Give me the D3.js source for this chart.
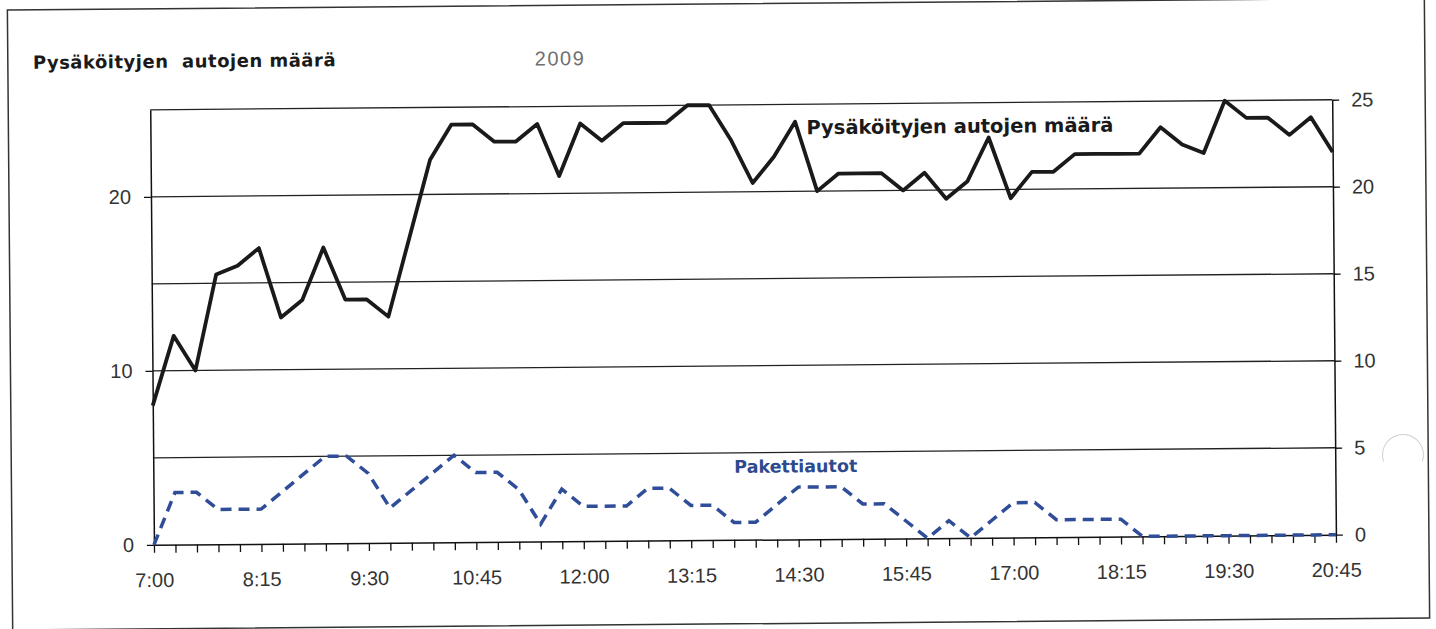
<!DOCTYPE html>
<html>
<head>
<meta charset="utf-8">
<script src="https://cdnjs.cloudflare.com/ajax/libs/d3/7.8.5/d3.min.js"></script>
<style>
  body { margin: 0; background: #fff; }
</style>
</head>
<body>
<script>
// 15 min observations, 7:00 - 20:45
var times = ["7:00","7:15","7:30","7:45","8:00","8:15","8:30","8:45","9:00","9:15",
             "9:30","9:45","10:00","10:15","10:30","10:45","11:00","11:15","11:30","11:45",
             "12:00","12:15","12:30","12:45","13:00","13:15","13:30","13:45","14:00","14:15",
             "14:30","14:45","15:00","15:15","15:30","15:45","16:00","16:15","16:30","16:45",
             "17:00","17:15","17:30","17:45","18:00","18:15","18:30","18:45","19:00","19:15",
             "19:30","19:45","20:00","20:15","20:30","20:45"];
var tickLabels = ["7:00","8:15","9:30","10:45","12:00","13:15","14:30","15:45","17:00","18:15","19:30","20:45"];

var parkedCars = [8,12,10,15.5,16,17,13,14,17,14,
                  14,13,17.5,22,24,24,23,23,24,21,
                  24,23,24,24,24,25,25,23,20.5,22,
                  24,20,21,21,21,20,21,19.5,20.5,23,
                  19.5,21,21,22,22,22,22,23.5,22.5,22,
                  25,24,24,23,24,22];
var vans = [0,3,3,2,2,2,3,4,5,5,
            4,2,3,4,5,4,4,3,1,3,
            2,2,2,3,3,2,2,1,1,2,
            3,3,3,2,2,1,0,1,0,1,
            2,2,1,1,1,1,0,0,0,0,
            0,0,0,0,0,0];

var leftTicks = [0, 10, 20];
var rightTicks = [0, 5, 10, 15, 20, 25];
var gridValues = [5, 10, 15, 20, 25];

var width = 1436;
var height = 629;

var svg = d3.select("body")
    .append("svg")
    .attr("width", width)
    .attr("height", height);

// the scanned sheet sits slightly askew
var chart = svg.append("g")
    .attr("transform", "rotate(-0.49, 718, 314)");

chart.append("rect")
    .attr("x", 10)
    .attr("y", 4)
    .attr("width", 1417)
    .attr("height", 620)
    .attr("fill", "none")
    .attr("stroke", "#333")
    .attr("stroke-width", 1.5);

var x = d3.scalePoint()
    .domain(times)
    .range([152, 1334]);

var y = d3.scaleLinear()
    .domain([0, 25])
    .range([540, 105]);

// gridlines
chart.append("g")
    .selectAll("line")
    .data(gridValues)
    .enter()
    .append("line")
    .attr("x1", x.range()[0])
    .attr("x2", x.range()[1])
    .attr("y1", d => y(d))
    .attr("y2", d => y(d))
    .attr("stroke", "#222")
    .attr("stroke-width", 1.3);

// axes
var axisFont = "'Liberation Sans', Arial, sans-serif";

var leftAxis = chart.append("g")
    .attr("transform", "translate(" + x.range()[0] + ",0)")
    .call(d3.axisLeft(y).tickValues(leftTicks).tickSize(7).tickPadding(13).tickSizeOuter(0));

var rightAxis = chart.append("g")
    .attr("transform", "translate(" + x.range()[1] + ",0)")
    .call(d3.axisRight(y).tickValues(rightTicks).tickSize(7).tickPadding(12).tickSizeOuter(0));

var bottomAxis = chart.append("g")
    .attr("transform", "translate(0," + y(0) + ")")
    .call(d3.axisBottom(x).tickSize(8).tickPadding(20).tickSizeOuter(0)
        .tickFormat(d => tickLabels.indexOf(d) >= 0 ? d : ""));

[leftAxis, rightAxis, bottomAxis].forEach(function(a) {
    a.selectAll("path.domain").attr("stroke", "#111").attr("stroke-width", 1.5);
    a.selectAll(".tick line").attr("stroke", "#111").attr("stroke-width", 1.3);
    a.selectAll("text")
        .attr("fill", "#333")
        .style("font-family", axisFont)
        .style("font-size", "20px");
});

// series
var line = d3.line()
    .x((d, i) => x(times[i]))
    .y(d => y(d));

chart.append("path")
    .datum(vans)
    .attr("d", line)
    .attr("fill", "none")
    .attr("stroke", "#2f4d98")
    .attr("stroke-width", 3.5)
    .attr("stroke-dasharray", "11,7");

chart.append("path")
    .datum(parkedCars)
    .attr("d", line)
    .attr("fill", "none")
    .attr("stroke", "#1a1a1a")
    .attr("stroke-width", 3.8)
    .attr("stroke-linejoin", "round");

// labels
var labelFont = "'DejaVu Sans', Verdana, sans-serif";

chart.append("text")
    .attr("x", 35)
    .attr("y", 63)
    .style("font-family", labelFont)
    .style("font-weight", "bold")
    .style("font-size", "18px")
    .style("letter-spacing", "0.5px")
    .attr("fill", "#1a1a1a")
    .attr("xml:space", "preserve")
    .text("Pysäköityjen  autojen määrä");

chart.append("text")
    .attr("x", 537)
    .attr("y", 64)
    .style("font-family", axisFont)
    .style("font-size", "20px")
    .style("letter-spacing", "1.5px")
    .attr("fill", "#707070")
    .text("2009");

chart.append("text")
    .attr("x", 808)
    .attr("y", 135)
    .style("font-family", labelFont)
    .style("font-weight", "bold")
    .style("font-size", "19.5px")
    .attr("fill", "#1a1a1a")
    .text("Pysäköityjen autojen määrä");

chart.append("text")
    .attr("x", 733)
    .attr("y", 473)
    .style("font-family", labelFont)
    .style("font-weight", "bold")
    .style("font-size", "17.5px")
    .attr("fill", "#2d4a8e")
    .text("Pakettiautot");

// faint scan mark at the right edge
svg.append("path")
    .attr("d", d3.arc()({innerRadius: 20, outerRadius: 21, startAngle: -1.9, endAngle: 1.9}))
    .attr("transform", "translate(1403,455)")
    .attr("fill", "#d0d0d0");
</script>
</body>
</html>
